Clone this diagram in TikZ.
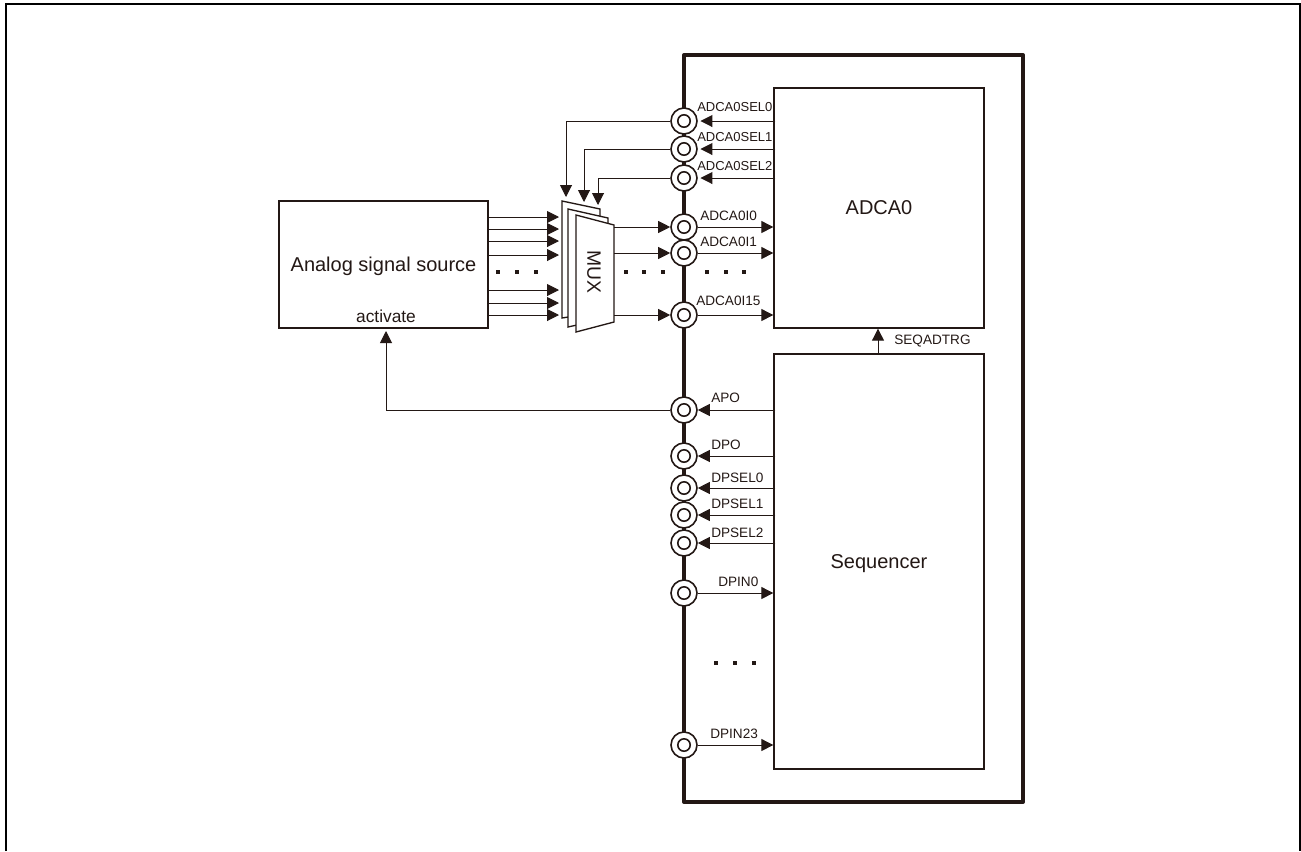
\documentclass[tikz,border=0pt]{standalone}
\usepackage{fontspec}
\setmainfont{Liberation Sans}
\usepackage{tikz}
\usetikzlibrary{
    arrows.meta,
    calc
}
\definecolor{inkblack}{HTML}{231815}

\begin{document}
\begin{tikzpicture}[
    x=0.75pt,y=-0.75pt,
    >={Triangle[length=9pt,width=9pt]},
    block/.style={rectangle,draw=inkblack,fill=white,line width=1pt,inner sep=0pt,text depth=0pt,text=inkblack,font=\fontsize{15pt}{17pt}\selectfont},
    port/.style={circle,draw=inkblack,fill=white,line width=1.2pt,minimum size=19.5pt,inner sep=0pt,
        path picture={\draw[inkblack,line width=1.2pt] (path picture bounding box.center) circle (6.2);}},
    sig/.style={draw=inkblack,line width=0.75pt},
    from block/.style={shorten <=-1.5pt},
    sig label/.style={anchor=west,inner sep=0pt,text=inkblack,font=\fontsize{10.2pt}{12pt}\selectfont},
    sel label/.style={sig label,font=\fontsize{9.75pt}{11pt}\selectfont},
    mux layer/.style={draw=inkblack,fill=white,line width=1pt,line join=miter},
    dotmark/.style={rectangle,fill=inkblack,minimum size=3pt,inner sep=0pt}
]
    \useasboundingbox (0,0) rectangle (1301,851);

    % Outer frame, open at the bottom edge.
    \draw[black,line width=1.7pt] (6,851) -- (6,4) -- (1300,4) -- (1300,851);

    \node[rectangle,draw=inkblack,line width=3pt,line join=round,minimum width=254.25pt,minimum height=560.25pt] (chip) at (853.5,428.5) {};

    \node[block,minimum width=157.5pt,minimum height=180pt] (adc) at (879,208) {ADCA0};
    \node[block,minimum width=157.5pt,minimum height=311.25pt] (seq) at (879,561.5) {Sequencer};
    \node[block,line width=1.8pt,minimum width=156.75pt,minimum height=95.25pt] (src) at (383.5,264.5) {Analog signal source};
    \node[anchor=center,inner sep=0pt,text=inkblack,font=\fontsize{13pt}{15pt}\selectfont] (activate) at (386,316) {activate};

    % Pins on the chip edge, with their signal names.
    \foreach \pin/\yy/\ly/\lab in {sel0/121/107/ADCA0SEL0,sel1/149/137/ADCA0SEL1,sel2/178/166/ADCA0SEL2} {
        \node[port] (\pin) at (684,\yy) {};
        \node[sel label] (lab\pin) at (697,\ly) {\lab};
    }
    \foreach \pin/\yy/\lx/\ly/\lab in {i0/227/700/216/ADCA0I0,i1/253/700/242/ADCA0I1,i15/315/696/301/ADCA0I15,
        apo/410/711/398/APO,dpo/456/711/445/DPO,dpsel0/488/711/478/DPSEL0,dpsel1/515/711/504/DPSEL1,dpsel2/543/711/533/DPSEL2,
        dpin0/593/718/582/DPIN0,dpin23/745/710/734/DPIN23} {
        \node[port] (\pin) at (684,\yy) {};
        \node[sig label] (lab\pin) at (\lx,\ly) {\lab};
    }

    % Multiplexer, three layers back to front.
    \draw[mux layer] (562,201) -- (600,209) -- (600,312) -- (562,318) -- cycle;
    \draw[mux layer] (568,209) -- (608,218) -- (608,318) -- (568,327) -- cycle;
    \draw[mux layer] (576,215) -- (614,225) -- (614,322) -- (576,332) -- cycle;
    \node[rotate=-90,inner sep=0pt,text=inkblack,font=\fontsize{14.5pt}{16pt}\selectfont] (muxlab) at (594,272) {MUX};

    \coordinate (muxin) at (559,272);
    \coordinate (muxout) at (614,272);
    \coordinate (sel0in) at (566,197);
    \coordinate (sel1in) at (584,202);
    \coordinate (sel2in) at (598,205);
    \coordinate (actin) at (386,331);
    \coordinate (trg) at (878,341);

    % Source outputs into the multiplexer.
    \foreach \yy in {217,229,241,255,290,303,315}
        \draw[sig,->] (src.east |- 0,\yy) -- (muxin |- 0,\yy);

    % Multiplexer outputs to pins and on to the converter.
    \foreach \pin in {i0,i1,i15} {
        \draw[sig,->] (muxout |- \pin) -- (\pin);
        \draw[sig,->] (\pin) -- (adc.west |- \pin);
    }

    % Select lines.
    \foreach \n in {0,1,2} {
        \draw[sig,from block,->,shorten >=2pt] (adc.west |- sel\n) -- (sel\n);
        \draw[sig,->] (sel\n) -| (sel\n in);
    }

    \foreach \pin in {apo,dpo,dpsel0,dpsel1,dpsel2}
        \draw[sig,from block,->] (seq.west |- \pin) -- (\pin);
    \foreach \pin in {dpin0,dpin23}
        \draw[sig,->] (\pin) -- (seq.west |- \pin);

    \draw[sig,->] (apo) -| (actin);
    \draw[sig,->] (seq.north -| trg) -- (adc.south -| trg);
    \node[sig label] (labtrg) at (894,341) {SEQADTRG};

    \foreach \xx/\yy [count=\i] in {498/272,517/272,536/272,626/272,644/272,663/272,707/272,726/272,744/272,716/663,735/663,754/663}
        \node[dotmark] (dot\i) at (\xx,\yy) {};
\end{tikzpicture}
\end{document}
